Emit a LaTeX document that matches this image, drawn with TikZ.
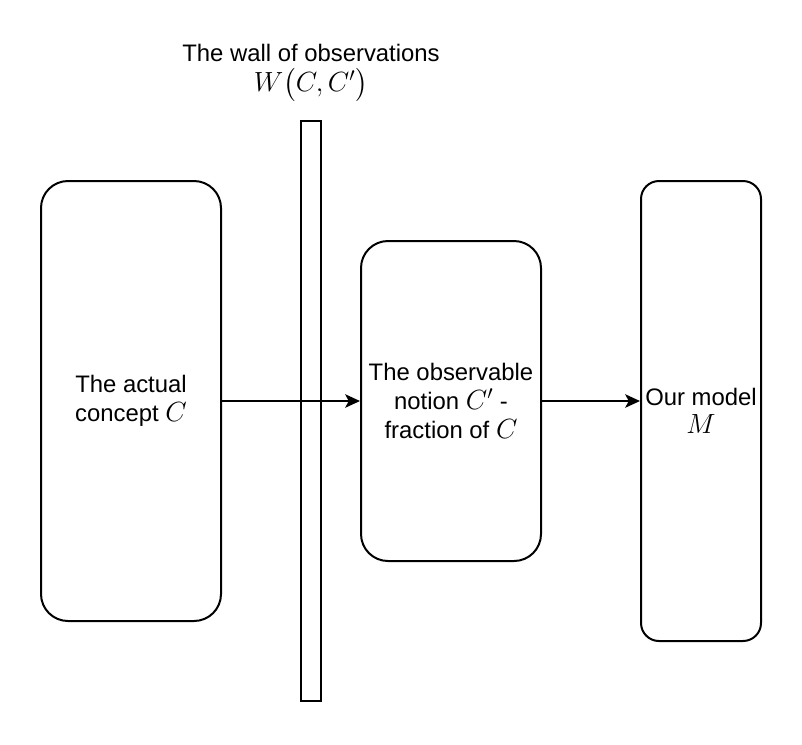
\documentclass[tikz,border=0pt]{standalone}
\usepackage{fix-cm}
\usepackage{amsmath}
\usepackage{fontspec}
\setmainfont{Liberation Sans}
\usepackage{tikz}
\usetikzlibrary{arrows.meta,positioning,calc}

\newcommand{\mjx}[1]{{\fontsize{20.8}{21.5}\selectfont$#1$}}

\tikzset{
  px/.style={x=0.75pt,y=-0.75pt},
  boxtxt/.style={font=\fontsize{17.9}{21.5}\selectfont,align=center,inner sep=0pt},
  cbox/.style={draw,line width=1.5pt,rounded corners=20.25pt,inner sep=0pt},
  flow/.style={-{Stealth[length=11pt,width=10pt,inset=2.5pt]},line width=1.5pt}
}

\begin{document}
\begin{tikzpicture}[px]
\useasboundingbox (0,0) rectangle (802,744);
\node[cbox,minimum width=135pt,minimum height=330pt] (actual) at (131,401){};
\node[boxtxt] at (actual.center){The actual\\concept \mjx{C}};
\node[draw,line width=1.5pt,minimum width=15pt,minimum height=435pt,inner sep=0pt] (wall) at (311,411){};
\node[boxtxt] (walltxt) at (311,53){The wall of observations};
\node[boxtxt] (wallmath) at (311,85){\mjx{W\big(C,C'\big)}};
\node[cbox,minimum width=135pt,minimum height=240pt] (notion) at (451,401){};
\node[boxtxt] at (notion.center){The observable\\notion \mjx{C'} -\\fraction of \mjx{C}};
\node[cbox,rounded corners=13.5pt,minimum width=90pt,minimum height=345pt] (model) at (701,411){};
\node[boxtxt] at (model.center){Our model\\\mjx{M}};
\draw[flow] (actual.east)--(notion.west);
\draw[flow] (notion.east)--(notion.east -| model.west);
\end{tikzpicture}
\end{document}
